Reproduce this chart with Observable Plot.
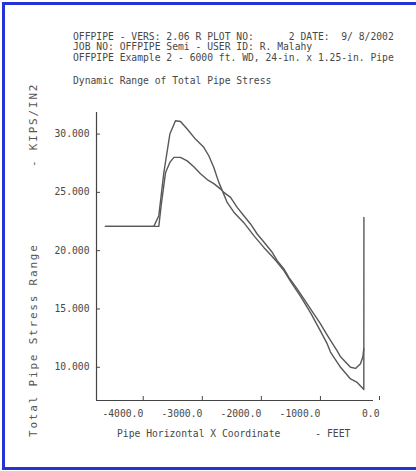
<!DOCTYPE html>
<html><head><meta charset="utf-8">
<script src="https://cdn.jsdelivr.net/npm/d3@7"></script>
<script src="https://cdn.jsdelivr.net/npm/@observablehq/plot@0.6"></script>
<style>
html,body{margin:0;padding:0;background:#fff;}
#page{position:relative;width:416px;height:471px;overflow:hidden;background:#fff;}
#chart{position:absolute;left:0;top:0;}
#overlay{position:absolute;left:0;top:0;}
#frame{position:absolute;left:2px;top:2px;width:430px;height:468px;box-sizing:border-box;border-left:3px solid #2532d4;border-top:3px solid #2532d4;border-bottom:3px solid #2532d4;}
</style></head>
<body><div id="page"><div id="chart"></div><svg id="overlay" width="416" height="471"></svg><div id="frame"></div></div>
<script>
// ---- data ----
const headerLines = [
  "OFFPIPE - VERS: 2.06 R PLOT NO:      2 DATE:  9/ 8/2002",
  "JOB NO: OFFPIPE Semi - USER ID: R. Malahy",
  "OFFPIPE Example 2 - 6000 ft. WD, 24-in. x 1.25-in. Pipe"
];
const plotTitle = "Dynamic Range of Total Pipe Stress";
const xTitle = "Pipe Horizontal X Coordinate      - FEET";
const yTitle = "Total Pipe Stress Range";
const yUnit = "- KIPS/IN2";
const xTicks = [-4000, -3000, -2000, -1000, 0];
const yTicks = [10, 15, 20, 25, 30];
const xDomain = [-4537, 152];
const yDomain = [7.15, 31.85];

// curve 1 (higher peak)
const c1X = [-4385,-3567,-3482,-3397,-3295,-3200,-3115,-3002,-2862,-2721,-2636,-2551,-2470,-2420,
  -2325,-2212,-2043,-1874,-1705,-1563,-1478,-1365,-1241,-1072,-903,-745,-631,-576,-406,-237,-124,-39,-12,-10];
const c1Y = [22.08,22.08,23.0,26.7,30.0,31.14,31.08,30.43,29.57,28.86,28.14,27.14,25.9,25.3,
  24.14,23.3,22.4,21.29,20.28,19.5,19.0,18.29,17.28,16.0,14.58,13.1,12.0,11.3,10.0,9.0,8.7,8.25,8.1,22.85];
// curve 2 (lower peak)
const c2X = [-4385,-3482,-3442,-3368,-3295,-3227,-3115,-3002,-2890,-2777,-2664,-2551,-2440,
  -2382,-2268,-2156,-2043,-1930,-1817,-1676,-1563,-1478,-1365,-1281,-1140,-1027,-858,-745,-660,-576,-463,-406,-237,-152,-68,-28,-12];
const c2Y = [22.08,22.08,23.9,26.7,27.57,28.0,28.0,27.7,27.2,26.6,26.1,25.75,25.3,
  25.0,24.57,23.71,23.0,22.29,21.43,20.57,19.86,19.14,18.43,17.71,16.72,15.86,14.58,13.72,13.0,12.3,11.4,10.9,10.0,9.9,10.3,10.9,11.6];

const rows = [
  ...c1X.map((x, i) => ({series: "c1", x, y: c1Y[i]})),
  ...c2X.map((x, i) => ({series: "c2", x, y: c2Y[i]}))
];

const ink = "#474747";
const font = "DejaVu Sans Mono";

const chart = Plot.plot({
  width: 416, height: 471,
  marginLeft: 96, marginRight: 43, marginTop: 112, marginBottom: 71,
  style: {fontFamily: font, fontSize: "9.7px", color: ink, background: "transparent", overflow: "visible"},
  x: {domain: xDomain},
  y: {domain: yDomain},
  marks: [
    Plot.axisY(yTicks, {tickSize: -4, tickPadding: 11, tickFormat: d => d.toFixed(3), label: null, stroke: ink, fill: ink}),
    Plot.axisX(xTicks, {tickSize: -4, tickPadding: 14, tickFormat: d => d.toFixed(1), label: null, textAnchor: "end", dx: 15, stroke: ink, fill: ink}),
    Plot.ruleX([xDomain[0]], {stroke: "#444", strokeWidth: 1.2}),
    Plot.ruleY([yDomain[0]], {stroke: "#444", strokeWidth: 1.2}),
    Plot.line(rows, {x: "x", y: "y", z: "series", stroke: "#585858", strokeWidth: 1.4, strokeLinejoin: "round"})
  ]
});
document.getElementById("chart").appendChild(chart);

const svg = d3.select("#overlay");
const g = svg.append("g").attr("font-family", font).attr("fill", ink).style("white-space", "pre");
headerLines.forEach((t, i) => {
  g.append("text").attr("x", 73).attr("y", 39.5 + i * 10.5).attr("font-size", 9.7).attr("xml:space", "preserve").text(t);
});
g.append("text").attr("x", 73).attr("y", 84).attr("font-size", 9.7).text(plotTitle);
g.append("text").attr("x", 117).attr("y", 437).attr("font-size", 9.7).attr("xml:space", "preserve").text(xTitle);
g.append("text").attr("transform", "translate(37,437) rotate(-90)").attr("font-size", 11).attr("letter-spacing", 1.8).attr("fill", "#555").text(yTitle);
g.append("text").attr("transform", "translate(37,167) rotate(-90)").attr("font-size", 11).attr("letter-spacing", 1.8).attr("fill", "#555").text(yUnit);
</script>
</body></html>
